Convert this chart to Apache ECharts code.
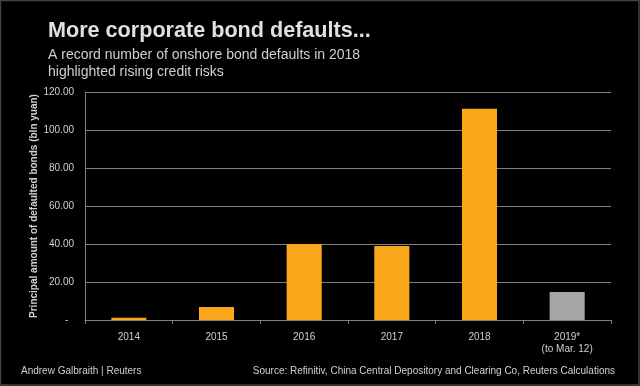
<!DOCTYPE html>
<html><head><meta charset="utf-8">
<script src="https://cdn.jsdelivr.net/npm/echarts@6/dist/echarts.min.js"></script>
<style>html,body{margin:0;padding:0;background:#000}#c{width:640px;height:386px}</style>
</head><body><div id="c"></div>
<script>
const categories = ['2014', '2015', '2016', '2017', '2018', '2019*\n(to Mar. 12)'];
const values = [1.2, 6.8, 40.0, 38.9, 111.2, 14.7];
const barColors = ['#FAA61A', '#FAA61A', '#FAA61A', '#FAA61A', '#FAA61A', '#A6A6A6'];
const yTicks = [0, 20, 40, 60, 80, 100, 120];

const chart = echarts.init(document.getElementById('c'));
chart.setOption({
  backgroundColor: '#000',
  animation: false,
  graphic: [
    {type: 'rect', shape: {x: 0.5, y: 0.5, width: 638.5, height: 384.5}, style: {fill: 'none', stroke: '#444', lineWidth: 1.5}},
    {type: 'text', left: 48, top: 20, style: {text: 'More corporate bond defaults...', fill: '#e0e0e0', font: 'bold 21.6px "Liberation Sans", Arial, sans-serif'}},
    {type: 'text', left: 48, top: 46, style: {text: 'A record number of onshore bond defaults in 2018\nhighlighted rising credit risks', fill: '#d0d0d0', font: '14px "Liberation Sans", Arial, sans-serif', lineHeight: 17.5}},
    {type: 'text', left: 21, top: 366, style: {text: 'Andrew Galbraith | Reuters', fill: '#d0d0d0', font: '10px "Liberation Sans", Arial, sans-serif'}},
    {type: 'text', right: 25, top: 366, style: {text: 'Source: Refinitiv, China Central Depository and Clearing Co, Reuters Calculations', fill: '#d0d0d0', font: '10px "Liberation Sans", Arial, sans-serif'}}
  ],
  grid: {left: 85, right: 29, top: 92, bottom: 66, containLabel: false},
  xAxis: {
    type: 'category',
    data: categories,
    axisLine: {lineStyle: {color: '#808080', width: 1}},
    axisTick: {show: true, alignWithLabel: false, length: 4, lineStyle: {color: '#808080'}},
    axisLabel: {color: '#d0d0d0', fontSize: 10, fontFamily: 'Liberation Sans, Arial, sans-serif', margin: 11, lineHeight: 12}
  },
  yAxis: {
    type: 'value',
    min: 0, max: 120, interval: 20,
    name: 'Principal amount of defaulted bonds (bln yuan)',
    nameLocation: 'middle',
    nameGap: 46,
    nameMoveOverlap: false,
    nameTextStyle: {color: '#d0d0d0', fontSize: 10, fontWeight: 'bold', fontFamily: 'Liberation Sans, Arial, sans-serif'},
    axisLine: {show: true, lineStyle: {color: '#808080', width: 1}},
    axisTick: {show: false},
    splitLine: {lineStyle: {color: '#808080', width: 1}},
    axisLabel: {
      color: '#d0d0d0', fontSize: 10, fontFamily: 'Liberation Sans, Arial, sans-serif', margin: 11,
      formatter: v => (v === 0 ? '-  ' : v.toFixed(2))
    }
  },
  series: [{
    type: 'bar',
    data: values.map((v, i) => ({value: v, itemStyle: {color: barColors[i]}})),
    barCategoryGap: '60%'
  }]
});
</script></body></html>
